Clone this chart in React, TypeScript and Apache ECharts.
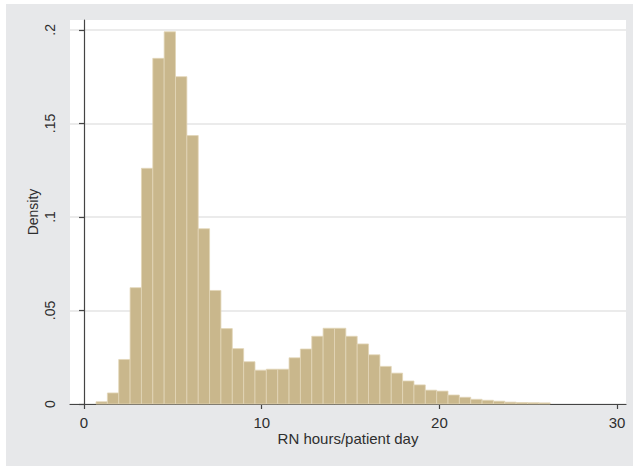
import React, { useEffect, useRef } from "react";
import * as echarts from "echarts";

const binStart = 0.675;
const binWidth = 0.639;
const densities = [
  0.0012, 0.0059, 0.0238, 0.0622, 0.126, 0.1848, 0.199, 0.175, 0.1435, 0.0937,
  0.0607, 0.0403, 0.0296, 0.0226, 0.0181, 0.0186, 0.0186, 0.0247, 0.0294, 0.0362,
  0.0405, 0.0405, 0.0362, 0.0321, 0.0263, 0.0201, 0.0165, 0.0123, 0.0102, 0.0074,
  0.0069, 0.0048, 0.0036, 0.0025, 0.002, 0.0015, 0.001, 0.0008, 0.0007, 0.0006,
];
const xTicks = [0, 10, 20, 30];
const yTicks = [0, 0.05, 0.1, 0.15, 0.2];

export default function App() {
  const ref = useRef<HTMLDivElement>(null);
  useEffect(() => {
    document.body.style.margin = "0";
    const chart = echarts.init(ref.current!, null, { renderer: "svg" });
    const data = densities.map((d, i) => [binStart + i * binWidth, binStart + (i + 1) * binWidth, d]);
    const font = "'Liberation Sans', Arial, sans-serif";
    chart.setOption({
      animation: false,
      backgroundColor: "#e7e8ea",
      grid: {
        left: 64,
        top: 16,
        right: 7,
        bottom: 62,
        show: true,
        backgroundColor: "#ffffff",
        borderWidth: 0,
      },
      xAxis: {
        type: "value",
        min: -0.79,
        max: 30.5,
        name: "RN hours/patient day",
        nameLocation: "middle",
        nameGap: 27,
        nameMoveOverlap: false,
        nameTextStyle: { color: "#2e2e2e", fontSize: 15, fontFamily: font },
        axisLine: { show: true, onZero: false, lineStyle: { color: "#444", width: 1.2 } },
        axisTick: { show: true, customValues: xTicks, length: 5, lineStyle: { color: "#444", width: 1.2 } },
        axisLabel: { customValues: xTicks, color: "#2e2e2e", fontSize: 15, margin: 11, fontFamily: font },
        splitLine: { show: false },
      },
      yAxis: {
        type: "value",
        min: 0,
        max: 0.2053,
        name: "Density",
        nameLocation: "middle",
        nameRotate: 90,
        nameGap: 30,
        nameMoveOverlap: false,
        nameTextStyle: { color: "#2e2e2e", fontSize: 14, fontFamily: font },
        axisLine: { show: true, lineStyle: { color: "#444", width: 1.2 } },
        axisTick: { show: true, customValues: yTicks, length: 5, lineStyle: { color: "#444", width: 1.2 } },
        axisLabel: {
          customValues: yTicks,
          rotate: 90,
          color: "#2e2e2e",
          fontSize: 14,
          margin: 13,
          fontFamily: font,
          formatter: (v: number) => (v === 0 ? "0" : String(+v.toFixed(2)).replace(/^0/, "")),
        },
        splitLine: { show: true, lineStyle: { color: "#e4e4e4", width: 1.5 } },
      },
      series: [
        {
          type: "custom",
          data,
          renderItem: (params: any, api: any) => {
            const p0 = api.coord([api.value(0), api.value(2)]);
            const p1 = api.coord([api.value(1), 0]);
            return {
              type: "rect",
              shape: { x: p0[0], y: p0[1], width: p1[0] - p0[0], height: p1[1] - p0[1] },
              style: { fill: "#c9b78c", stroke: "#e2d6b8", lineWidth: 0.8 },
            };
          },
        },
      ],
    });
    return () => chart.dispose();
  }, []);
  return (
    <div style={{ position: "relative", width: 633, height: 466, background: "#fff" }}>
      <div ref={ref} style={{ position: "absolute", left: 6, top: 4, width: 627, height: 462 }} />
    </div>
  );
}
